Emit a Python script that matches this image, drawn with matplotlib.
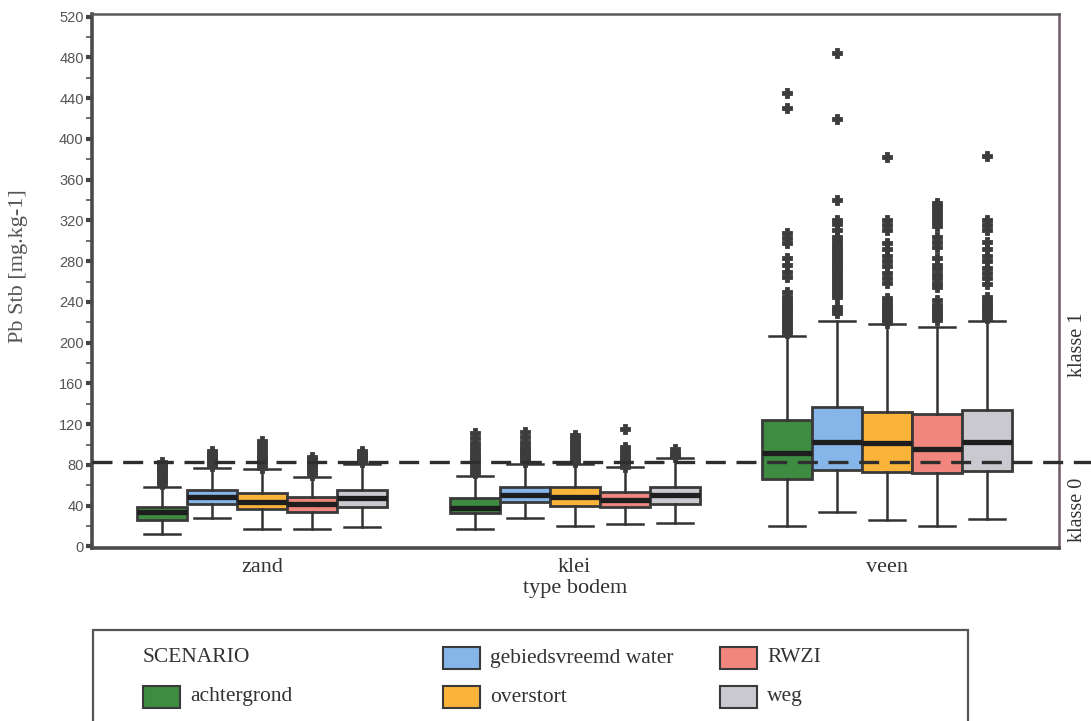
import numpy as np
import matplotlib
matplotlib.use('Agg')
import matplotlib.pyplot as plt
from matplotlib.patches import Rectangle

# --- data ---
soils = ['zand', 'klei', 'veen']
scenarios = ['achtergrond', 'gebiedsvreemd water', 'overstort', 'RWZI', 'weg']
colors = ['#3d8c41', '#86b5ea', '#fbb43a', '#f0867d', '#c9c9cf']

# rows: soil, columns: scenario
q1 = [[26, 41.7, 36.8, 34.2, 39.1],
      [33.2, 44, 40, 39, 41.7],
      [66.2, 75, 72.8, 71.8, 74.4]]
med = [[34.2, 48.9, 44, 41.7, 47.3],
       [37.5, 50.5, 48.9, 45.6, 50.5],
       [91.5, 102.3, 101.9, 95.7, 102.8]]
q3 = [[39.1, 55.4, 52.2, 48.9, 55.4],
      [47.9, 58.7, 58.1, 53.8, 58.7],
      [124, 137.2, 132.3, 130, 134]]
whislo = [[12.3, 27.7, 16.9, 17.2, 18.8],
          [16.9, 27.7, 20.4, 22, 23.4],
          [20, 33.6, 26, 20.4, 27]]
whishi = [[58.7, 76.7, 75.8, 68.5, 81],
          [69.5, 81, 81, 77.7, 86.6],
          [206.6, 221.6, 218.4, 215, 221.6]]

fliers = [
    [[61, 64, 67, 70, 72, 74, 76, 78, 80, 83],
     [79, 81, 83, 85, 87, 89, 91, 94],
     [77, 80, 83, 85, 87, 90, 93, 97, 100, 103.5],
     [70, 73, 76, 79, 82, 85, 88],
     [83, 85, 87, 89, 92, 94]],
    [[72, 75, 78, 82, 85, 88, 91, 95, 98, 101.5, 106, 111],
     [83, 85, 87, 89, 91, 93, 96, 99, 102.5, 107.5, 112.7],
     [83, 85, 88, 91, 94, 97, 100, 103, 106, 109.4],
     [78, 81, 84, 87, 90, 94, 98, 115],
     [88, 90, 92, 95.4]],
    [[209, 212, 215, 218, 221, 224, 227, 230, 233, 236, 239, 242, 245, 250,
      264, 269, 276, 283, 298, 303, 308, 430, 444.7],
     [229, 232, 235, 245, 248, 251, 254, 257, 260, 263, 266, 269, 272, 275,
      278, 281, 284, 287, 290, 293, 296, 300, 304, 311, 316, 320, 340, 419, 484],
     [219, 222, 225, 228, 231, 234, 237, 240, 243.9, 258.5, 263, 268, 275,
      280, 285, 292, 297.8, 311, 315, 320, 382.5],
     [222, 225, 228, 231, 234, 237, 242, 255, 259, 263, 267, 272, 276, 283,
      294, 299, 304, 314, 318, 322, 326, 330, 334, 337],
     [224, 227, 230, 233, 236, 239, 242, 245, 258, 263, 268, 273, 280, 285,
      292, 299, 311, 315, 320, 383.5]],
]

threshold = 82.5
yticks = np.arange(0, 521, 40)

# --- figure ---
W, H = 1091, 721
fig = plt.figure(figsize=(W / 100, H / 100), dpi=100)


def fx(x):
    return x / W


def fy(y):
    return 1 - y / H


ax = fig.add_axes([fx(92), fy(548), fx(1059) - fx(92), fy(14) - fy(548)])

box_w = 0.16
stats = []
positions = []
for i, soil in enumerate(soils):
    for j in range(len(scenarios)):
        stats.append(dict(med=med[i][j], q1=q1[i][j], q3=q3[i][j],
                          whislo=whislo[i][j], whishi=whishi[i][j],
                          fliers=fliers[i][j]))
        positions.append(i + (j - 2) * box_w)

bp = ax.bxp(stats, positions=positions, widths=box_w, patch_artist=True,
            capwidths=box_w * 0.72, manage_ticks=False,
            boxprops=dict(edgecolor='#3a3a3a', linewidth=2.0),
            medianprops=dict(color='#1e1e1e', linewidth=3.8, solid_capstyle='butt'),
            whiskerprops=dict(color='#333333', linewidth=1.8),
            capprops=dict(color='#333333', linewidth=1.8),
            flierprops=dict(marker='P', markersize=6.5, markerfacecolor='#3c3c3c',
                            markeredgecolor='#3c3c3c', markeredgewidth=0.6,
                            linestyle='none'))
for k, patch in enumerate(bp['boxes']):
    patch.set_facecolor(colors[k % len(scenarios)])

# threshold line (runs past the right spine)
ax.plot([-0.544, 2.72], [threshold, threshold], color='#2e2e2e', linewidth=2.4,
        dashes=(6, 3.2), zorder=10, clip_on=False)

ax.set_xlim(-0.544, 2.55)
ax.set_ylim(-1.5, 522.5)
ax.set_yticks(yticks)
ax.set_yticks(np.arange(20, 521, 40), minor=True)
ax.tick_params(axis='y', which='major', length=4, width=3, color='#444444',
               labelsize=10.5, labelcolor='#555555', pad=2)
ax.tick_params(axis='y', which='minor', length=4, width=1.2, color='#555555')
for lab in ax.get_yticklabels():
    lab.set_family('Liberation Sans')

ax.set_xticks(range(len(soils)))
ax.set_xticklabels(soils, family='Liberation Serif', fontsize=16, color='#333333')
ax.tick_params(axis='x', length=0, pad=7)
ax.set_xlabel('type bodem', family='Liberation Serif', fontsize=16,
              color='#333333', labelpad=2)
ax.set_ylabel('Pb Stb [mg.kg-1]', family='Liberation Serif', fontsize=16,
              color='#555555')
ax.yaxis.set_label_coords(-0.066, 0.528)

ax.spines['left'].set_linewidth(2.6)
ax.spines['left'].set_color('#4a4a4a')
ax.spines['bottom'].set_linewidth(2.6)
ax.spines['bottom'].set_color('#4a4a4a')
ax.spines['top'].set_linewidth(1.8)
ax.spines['top'].set_color('#5a5a5a')
ax.spines['right'].set_linewidth(1.8)
ax.spines['right'].set_color('#6e5a66')

# class labels on the right
fig.text(fx(1078), fy(345), 'klasse 1', rotation=90, ha='center', va='center',
         family='Liberation Serif', fontsize=14.5, color='#333333')
fig.text(fx(1078), fy(510), 'klasse 0', rotation=90, ha='center', va='center',
         family='Liberation Serif', fontsize=14.5, color='#333333')

# --- legend (drawn by hand, frame runs off the bottom) ---
fig.add_artist(Rectangle((fx(93), fy(760)), fx(968) - fx(93), fy(630) - fy(760),
                         transform=fig.transFigure, fill=False,
                         edgecolor='#555555', linewidth=1.6))
fig.text(fx(143), fy(658), 'SCENARIO', ha='left', va='center',
         family='Liberation Serif', fontsize=15.5, color='#333333')
slots = [(143, 697), (443, 658), (443, 697), (720, 658), (720, 697)]
for (x0, y0), name, col in zip(slots, scenarios, colors):
    fig.add_artist(Rectangle((fx(x0), fy(y0 + 11)), fx(37), 22 / H,
                             transform=fig.transFigure, facecolor=col,
                             edgecolor='#3a3a3a', linewidth=1.5))
    fig.text(fx(x0 + 47), fy(y0), name, ha='left', va='center',
             family='Liberation Serif', fontsize=15.5, color='#333333')

fig.savefig('out.png', dpi=100)
